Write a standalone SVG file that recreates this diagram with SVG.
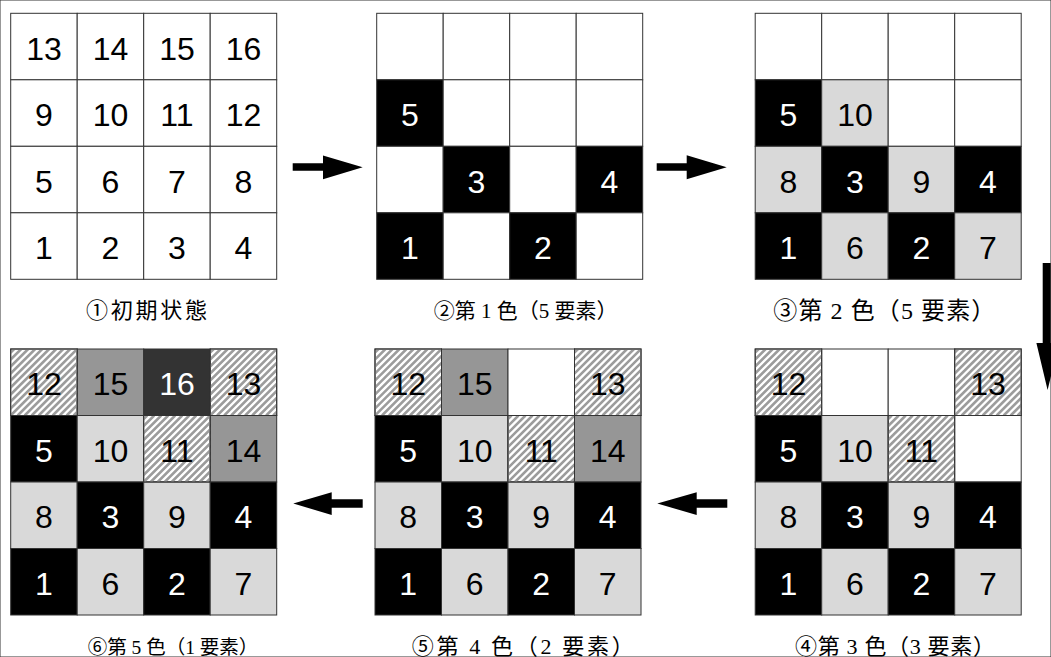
<svg xmlns="http://www.w3.org/2000/svg" width="1051" height="657" viewBox="0 0 1051 657">
<defs>
<clipPath id="cellclip"><rect x="0" y="0" width="66.5" height="66.5" stroke="none"/></clipPath>
<g id="hl" clip-path="url(#cellclip)">
<path d="M-63,66.5l66.5,-66.5M-56,66.5l66.5,-66.5M-49,66.5l66.5,-66.5M-42,66.5l66.5,-66.5M-35,66.5l66.5,-66.5M-28,66.5l66.5,-66.5M-21,66.5l66.5,-66.5M-14,66.5l66.5,-66.5M-7,66.5l66.5,-66.5M0,66.5l66.5,-66.5M7,66.5l66.5,-66.5M14,66.5l66.5,-66.5M21,66.5l66.5,-66.5M28,66.5l66.5,-66.5M35,66.5l66.5,-66.5M42,66.5l66.5,-66.5M49,66.5l66.5,-66.5M56,66.5l66.5,-66.5M63,66.5l66.5,-66.5" stroke="#9c9c9c" stroke-width="2.6" fill="none"/>
</g>
<style>
rect{stroke:#333;stroke-width:1}
.w{fill:#fff}.k{fill:#000}.l{fill:#d9d9d9}.m{fill:#969696}.d{fill:#333}.o{fill:none}
.n{font-family:"Liberation Sans",Arial,sans-serif;font-size:32px;text-anchor:middle;fill:#000}
.nw{fill:#fff}
.lab{font-family:"Liberation Serif","Noto Sans CJK JP",serif;font-size:21px;text-anchor:middle;fill:#000}
.arr{fill:#000}
</style>
</defs>
<rect width="1051" height="657" fill="#fff" stroke="none"/>

<g id="grid1" transform="translate(10.7,13.3)">
<rect class="w" x="0" y="0" width="66.5" height="66.5"/><rect class="w" x="66.5" y="0" width="66.5" height="66.5"/><rect class="w" x="133" y="0" width="66.5" height="66.5"/><rect class="w" x="199.5" y="0" width="66.5" height="66.5"/>
<rect class="w" x="0" y="66.5" width="66.5" height="66.5"/><rect class="w" x="66.5" y="66.5" width="66.5" height="66.5"/><rect class="w" x="133" y="66.5" width="66.5" height="66.5"/><rect class="w" x="199.5" y="66.5" width="66.5" height="66.5"/>
<rect class="w" x="0" y="133" width="66.5" height="66.5"/><rect class="w" x="66.5" y="133" width="66.5" height="66.5"/><rect class="w" x="133" y="133" width="66.5" height="66.5"/><rect class="w" x="199.5" y="133" width="66.5" height="66.5"/>
<rect class="w" x="0" y="199.5" width="66.5" height="66.5"/><rect class="w" x="66.5" y="199.5" width="66.5" height="66.5"/><rect class="w" x="133" y="199.5" width="66.5" height="66.5"/><rect class="w" x="199.5" y="199.5" width="66.5" height="66.5"/>
<text class="n" x="33.25" y="46.25">13</text><text class="n" x="99.75" y="46.25">14</text><text class="n" x="166.25" y="46.25">15</text><text class="n" x="232.75" y="46.25">16</text>
<text class="n" x="33.25" y="112.75">9</text><text class="n" x="99.75" y="112.75">10</text><text class="n" x="166.25" y="112.75">11</text><text class="n" x="232.75" y="112.75">12</text>
<text class="n" x="33.25" y="179.25">5</text><text class="n" x="99.75" y="179.25">6</text><text class="n" x="166.25" y="179.25">7</text><text class="n" x="232.75" y="179.25">8</text>
<text class="n" x="33.25" y="245.75">1</text><text class="n" x="99.75" y="245.75">2</text><text class="n" x="166.25" y="245.75">3</text><text class="n" x="232.75" y="245.75">4</text>
</g>
<g id="label1"><text class="lab" x="146.5" y="318" style="font-size:22px" textLength="121" lengthAdjust="spacing">①初期状態</text></g>

<g id="grid2" transform="translate(376.7,13.3)">
<rect class="w" x="0" y="0" width="66.5" height="66.5"/><rect class="w" x="66.5" y="0" width="66.5" height="66.5"/><rect class="w" x="133" y="0" width="66.5" height="66.5"/><rect class="w" x="199.5" y="0" width="66.5" height="66.5"/>
<rect class="k" x="0" y="66.5" width="66.5" height="66.5"/><rect class="w" x="66.5" y="66.5" width="66.5" height="66.5"/><rect class="w" x="133" y="66.5" width="66.5" height="66.5"/><rect class="w" x="199.5" y="66.5" width="66.5" height="66.5"/>
<rect class="w" x="0" y="133" width="66.5" height="66.5"/><rect class="k" x="66.5" y="133" width="66.5" height="66.5"/><rect class="w" x="133" y="133" width="66.5" height="66.5"/><rect class="k" x="199.5" y="133" width="66.5" height="66.5"/>
<rect class="k" x="0" y="199.5" width="66.5" height="66.5"/><rect class="w" x="66.5" y="199.5" width="66.5" height="66.5"/><rect class="k" x="133" y="199.5" width="66.5" height="66.5"/><rect class="w" x="199.5" y="199.5" width="66.5" height="66.5"/>
<text class="n nw" x="33.25" y="112.75">5</text>
<text class="n nw" x="99.75" y="179.25">3</text><text class="n nw" x="232.75" y="179.25">4</text>
<text class="n nw" x="33.25" y="245.75">1</text><text class="n nw" x="166.25" y="245.75">2</text>
</g>
<g id="label2"><text class="lab" x="525.7" y="318">②第 1 色（5 要素）</text></g>

<g id="grid3" transform="translate(755.2,13.3)">
<rect class="w" x="0" y="0" width="66.5" height="66.5"/><rect class="w" x="66.5" y="0" width="66.5" height="66.5"/><rect class="w" x="133" y="0" width="66.5" height="66.5"/><rect class="w" x="199.5" y="0" width="66.5" height="66.5"/>
<rect class="k" x="0" y="66.5" width="66.5" height="66.5"/><rect class="l" x="66.5" y="66.5" width="66.5" height="66.5"/><rect class="w" x="133" y="66.5" width="66.5" height="66.5"/><rect class="w" x="199.5" y="66.5" width="66.5" height="66.5"/>
<rect class="l" x="0" y="133" width="66.5" height="66.5"/><rect class="k" x="66.5" y="133" width="66.5" height="66.5"/><rect class="l" x="133" y="133" width="66.5" height="66.5"/><rect class="k" x="199.5" y="133" width="66.5" height="66.5"/>
<rect class="k" x="0" y="199.5" width="66.5" height="66.5"/><rect class="l" x="66.5" y="199.5" width="66.5" height="66.5"/><rect class="k" x="133" y="199.5" width="66.5" height="66.5"/><rect class="l" x="199.5" y="199.5" width="66.5" height="66.5"/>
<text class="n nw" x="33.25" y="112.75">5</text><text class="n" x="99.75" y="112.75">10</text>
<text class="n" x="33.25" y="179.25">8</text><text class="n nw" x="99.75" y="179.25">3</text><text class="n" x="166.25" y="179.25">9</text><text class="n nw" x="232.75" y="179.25">4</text>
<text class="n nw" x="33.25" y="245.75">1</text><text class="n" x="99.75" y="245.75">6</text><text class="n nw" x="166.25" y="245.75">2</text><text class="n" x="232.75" y="245.75">7</text>
</g>
<g id="label3"><text class="lab" x="884.3" y="319" style="font-size:24px" textLength="222" lengthAdjust="spacing">③第 2 色（5 要素）</text></g>

<g id="grid4" transform="translate(755.2,349)">
<rect class="w" x="0" y="0" width="66.5" height="66.5"/><rect class="w" x="66.5" y="0" width="66.5" height="66.5"/><rect class="w" x="133" y="0" width="66.5" height="66.5"/><rect class="w" x="199.5" y="0" width="66.5" height="66.5"/>
<rect class="k" x="0" y="66.5" width="66.5" height="66.5"/><rect class="l" x="66.5" y="66.5" width="66.5" height="66.5"/><rect class="w" x="133" y="66.5" width="66.5" height="66.5"/><rect class="w" x="199.5" y="66.5" width="66.5" height="66.5"/>
<rect class="l" x="0" y="133" width="66.5" height="66.5"/><rect class="k" x="66.5" y="133" width="66.5" height="66.5"/><rect class="l" x="133" y="133" width="66.5" height="66.5"/><rect class="k" x="199.5" y="133" width="66.5" height="66.5"/>
<rect class="k" x="0" y="199.5" width="66.5" height="66.5"/><rect class="l" x="66.5" y="199.5" width="66.5" height="66.5"/><rect class="k" x="133" y="199.5" width="66.5" height="66.5"/><rect class="l" x="199.5" y="199.5" width="66.5" height="66.5"/>
<use href="#hl" x="0" y="0"/><use href="#hl" x="199.5" y="0"/><use href="#hl" x="133" y="66.5"/>
<rect class="o" x="0" y="0" width="66.5" height="66.5"/><rect class="o" x="199.5" y="0" width="66.5" height="66.5"/><rect class="o" x="133" y="66.5" width="66.5" height="66.5"/>
<text class="n" x="33.25" y="46.25">12</text><text class="n" x="232.75" y="46.25">13</text>
<text class="n nw" x="33.25" y="112.75">5</text><text class="n" x="99.75" y="112.75">10</text><text class="n" x="166.25" y="112.75">11</text>
<text class="n" x="33.25" y="179.25">8</text><text class="n nw" x="99.75" y="179.25">3</text><text class="n" x="166.25" y="179.25">9</text><text class="n nw" x="232.75" y="179.25">4</text>
<text class="n nw" x="33.25" y="245.75">1</text><text class="n" x="99.75" y="245.75">6</text><text class="n nw" x="166.25" y="245.75">2</text><text class="n" x="232.75" y="245.75">7</text>
</g>
<g id="label4"><text class="lab" x="895" y="654" style="font-size:22px" textLength="200" lengthAdjust="spacing">④第 3 色（3 要素）</text></g>

<g id="grid5" transform="translate(375,349)">
<rect class="w" x="0" y="0" width="66.5" height="66.5"/><rect class="m" x="66.5" y="0" width="66.5" height="66.5"/><rect class="w" x="133" y="0" width="66.5" height="66.5"/><rect class="w" x="199.5" y="0" width="66.5" height="66.5"/>
<rect class="k" x="0" y="66.5" width="66.5" height="66.5"/><rect class="l" x="66.5" y="66.5" width="66.5" height="66.5"/><rect class="w" x="133" y="66.5" width="66.5" height="66.5"/><rect class="m" x="199.5" y="66.5" width="66.5" height="66.5"/>
<rect class="l" x="0" y="133" width="66.5" height="66.5"/><rect class="k" x="66.5" y="133" width="66.5" height="66.5"/><rect class="l" x="133" y="133" width="66.5" height="66.5"/><rect class="k" x="199.5" y="133" width="66.5" height="66.5"/>
<rect class="k" x="0" y="199.5" width="66.5" height="66.5"/><rect class="l" x="66.5" y="199.5" width="66.5" height="66.5"/><rect class="k" x="133" y="199.5" width="66.5" height="66.5"/><rect class="l" x="199.5" y="199.5" width="66.5" height="66.5"/>
<use href="#hl" x="0" y="0"/><use href="#hl" x="199.5" y="0"/><use href="#hl" x="133" y="66.5"/>
<rect class="o" x="0" y="0" width="66.5" height="66.5"/><rect class="o" x="199.5" y="0" width="66.5" height="66.5"/><rect class="o" x="133" y="66.5" width="66.5" height="66.5"/>
<text class="n" x="33.25" y="46.25">12</text><text class="n" x="99.75" y="46.25">15</text><text class="n" x="232.75" y="46.25">13</text>
<text class="n nw" x="33.25" y="112.75">5</text><text class="n" x="99.75" y="112.75">10</text><text class="n" x="166.25" y="112.75">11</text><text class="n" x="232.75" y="112.75">14</text>
<text class="n" x="33.25" y="179.25">8</text><text class="n nw" x="99.75" y="179.25">3</text><text class="n" x="166.25" y="179.25">9</text><text class="n nw" x="232.75" y="179.25">4</text>
<text class="n nw" x="33.25" y="245.75">1</text><text class="n" x="99.75" y="245.75">6</text><text class="n nw" x="166.25" y="245.75">2</text><text class="n" x="232.75" y="245.75">7</text>
</g>
<g id="label5"><text class="lab" x="522.7" y="654" style="font-size:22px" textLength="222" lengthAdjust="spacing">⑤第 4  色（2 要素）</text></g>

<g id="grid6" transform="translate(10.7,349)">
<rect class="w" x="0" y="0" width="66.5" height="66.5"/><rect class="m" x="66.5" y="0" width="66.5" height="66.5"/><rect class="d" x="133" y="0" width="66.5" height="66.5"/><rect class="w" x="199.5" y="0" width="66.5" height="66.5"/>
<rect class="k" x="0" y="66.5" width="66.5" height="66.5"/><rect class="l" x="66.5" y="66.5" width="66.5" height="66.5"/><rect class="w" x="133" y="66.5" width="66.5" height="66.5"/><rect class="m" x="199.5" y="66.5" width="66.5" height="66.5"/>
<rect class="l" x="0" y="133" width="66.5" height="66.5"/><rect class="k" x="66.5" y="133" width="66.5" height="66.5"/><rect class="l" x="133" y="133" width="66.5" height="66.5"/><rect class="k" x="199.5" y="133" width="66.5" height="66.5"/>
<rect class="k" x="0" y="199.5" width="66.5" height="66.5"/><rect class="l" x="66.5" y="199.5" width="66.5" height="66.5"/><rect class="k" x="133" y="199.5" width="66.5" height="66.5"/><rect class="l" x="199.5" y="199.5" width="66.5" height="66.5"/>
<use href="#hl" x="0" y="0"/><use href="#hl" x="199.5" y="0"/><use href="#hl" x="133" y="66.5"/>
<rect class="o" x="0" y="0" width="66.5" height="66.5"/><rect class="o" x="199.5" y="0" width="66.5" height="66.5"/><rect class="o" x="133" y="66.5" width="66.5" height="66.5"/>
<text class="n" x="33.25" y="46.25">12</text><text class="n" x="99.75" y="46.25">15</text><text class="n nw" x="166.25" y="46.25">16</text><text class="n" x="232.75" y="46.25">13</text>
<text class="n nw" x="33.25" y="112.75">5</text><text class="n" x="99.75" y="112.75">10</text><text class="n" x="166.25" y="112.75">11</text><text class="n" x="232.75" y="112.75">14</text>
<text class="n" x="33.25" y="179.25">8</text><text class="n nw" x="99.75" y="179.25">3</text><text class="n" x="166.25" y="179.25">9</text><text class="n nw" x="232.75" y="179.25">4</text>
<text class="n nw" x="33.25" y="245.75">1</text><text class="n" x="99.75" y="245.75">6</text><text class="n nw" x="166.25" y="245.75">2</text><text class="n" x="232.75" y="245.75">7</text>
</g>
<g id="label6"><text class="lab" x="173" y="654" style="font-size:19.5px">⑥第 5 色（1 要素）</text></g>

<g id="connectors">
<polygon class="arr" points="292.7,163.3 323,163.3 323,155.5 362.7,167.2 323,179.2 323,170.8 292.7,170.8"/>
<polygon class="arr" points="656.7,163.3 686.7,163.3 686.7,155.3 726.7,167.2 686.7,179.2 686.7,170.8 656.7,170.8"/>
<polygon class="arr" points="1042.7,263 1050.7,263 1050.7,343 1059,343 1047.6,390 1036.4,343 1042.7,343"/>
<polygon class="arr" points="362.7,499.3 331.7,499.3 331.7,492.3 293.3,503.5 331.7,515 331.7,507.7 362.7,507.7"/>
<polygon class="arr" points="727.3,499.3 696.7,499.3 696.7,492.3 657.3,503.5 696.7,515 696.7,507.7 727.3,507.7"/>
</g>
</svg>
